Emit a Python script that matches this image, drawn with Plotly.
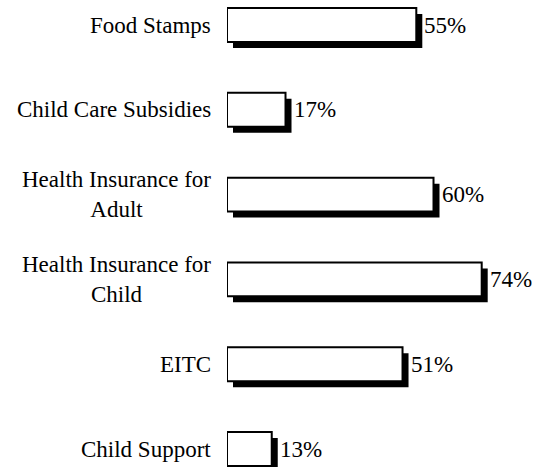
import plotly.graph_objects as go

categories = ["Food Stamps", "Child Care Subsidies", "Health Insurance for<br>Adult",
              "Health Insurance for<br>Child", "EITC", "Child Support"]
values = [55, 17, 60, 74, 51, 13]
value_labels = ["55%", "17%", "60%", "74%", "51%", "13%"]

W, H = 534, 467
ML, MR = 227, 11
X_MAX = 86
px_per_x = (W - ML - MR) / X_MAX
row_px = 84.8
first_center = 25.0
y_top = -first_center / row_px
y_bot = (H - first_center) / row_px

dx = 6 / px_per_x
dy = 6 / row_px
idx = list(range(len(categories)))

FONT = "Liberation Serif"

fig = go.Figure()
# shadow
fig.add_trace(go.Bar(
    orientation="h", y=[i + dy for i in idx], x=values, base=[dx] * len(values),
    width=0.4, marker=dict(color="black", line=dict(width=0)), hoverinfo="skip",
))
# main bars
fig.add_trace(go.Bar(
    orientation="h", y=idx, x=values, base=[0] * len(values),
    width=0.4, marker=dict(color="white", line=dict(color="black", width=2)),
))

annotations = []
for i, (c, v, lab) in enumerate(zip(categories, values, value_labels)):
    annotations.append(dict(x=0, y=i, xref="x", yref="y", text=c, showarrow=False,
                            xanchor="right", yanchor="middle", align="center", xshift=-14,
                            font=dict(family=FONT, size=23, color="black")))
    annotations.append(dict(x=v + dx, y=i, xref="x", yref="y", text=lab, showarrow=False,
                            xanchor="left", yanchor="middle", xshift=0,
                            font=dict(family=FONT, size=23, color="black")))

fig.update_layout(
    width=W, height=H,
    margin=dict(l=ML, r=MR, t=0, b=0),
    paper_bgcolor="white", plot_bgcolor="white",
    barmode="overlay", showlegend=False,
    xaxis=dict(range=[0, X_MAX], visible=False, fixedrange=True),
    yaxis=dict(range=[y_bot, y_top], visible=False, fixedrange=True),
    annotations=annotations,
    font=dict(family=FONT, size=23, color="black"),
)

fig.write_html("out.html", config={"displayModeBar": False},
               post_script="document.body.style.margin='0';document.body.style.overflow='hidden';")
